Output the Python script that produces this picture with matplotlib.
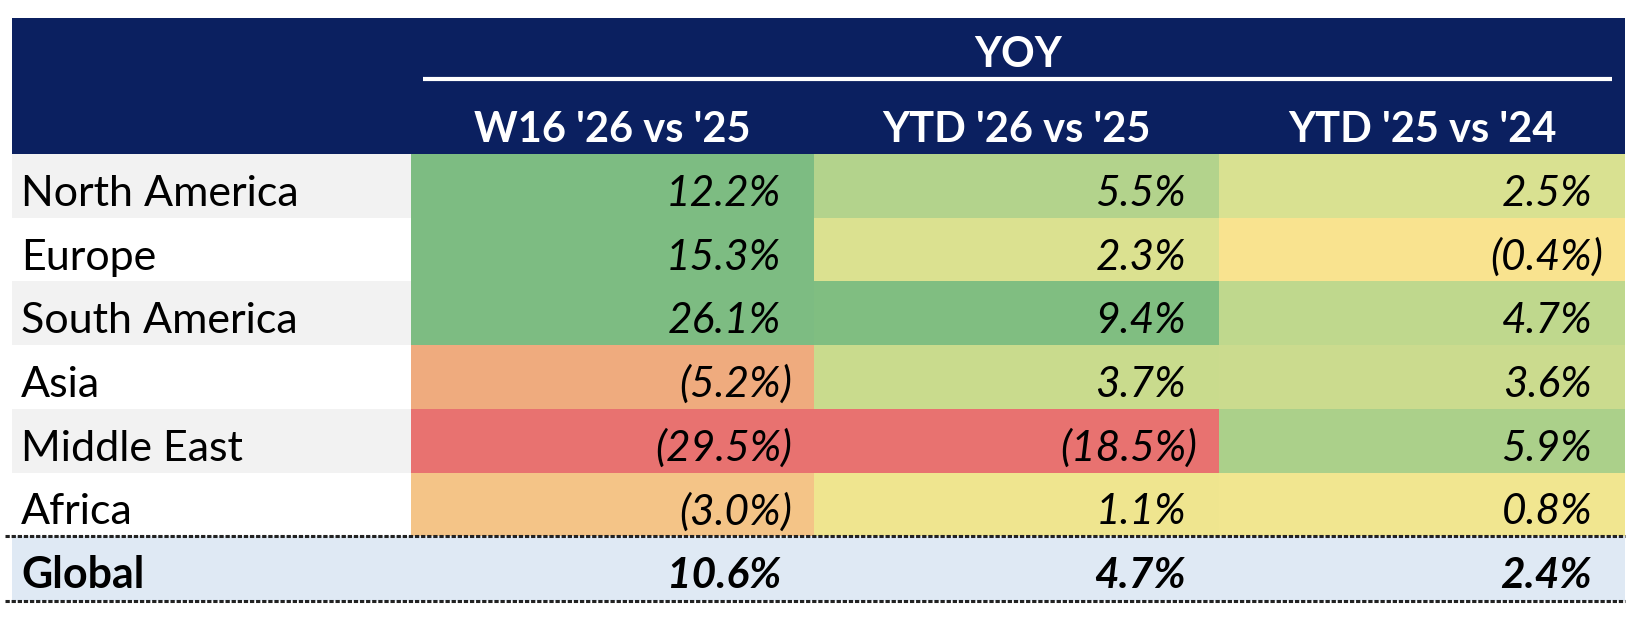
import matplotlib
matplotlib.use("Agg")
import matplotlib.pyplot as plt
from matplotlib.patches import Rectangle

plt.rcParams['font.family'] = ['Lato', 'DejaVu Sans']

# table content
regions = ['North America', 'Europe', 'South America', 'Asia', 'Middle East', 'Africa']
columns = ["W16 '26 vs '25", "YTD '26 vs '25", "YTD '25 vs '24"]
w16_26 = [12.2, 15.3, 26.1, -5.2, -29.5, -3.0]
ytd_26 = [5.5, 2.3, 9.4, 3.7, -18.5, 1.1]
ytd_25 = [2.5, -0.4, 4.7, 3.6, 5.9, 0.8]
global_row = [10.6, 4.7, 2.4]
group_title = 'YOY'

# conditional-format fills
fill_w16 = ['#7dbc82', '#7dbc82', '#7dbc82', '#efab7e', '#e87270', '#f4c487']
fill_ytd26 = ['#b3d38c', '#dbe190', '#80be81', '#c9db8d', '#e87270', '#efe58f']
fill_ytd25 = ['#d9e191', '#f9e38f', '#bfd88d', '#cbdb8e', '#abd08a', '#f1e690']

values = [w16_26, ytd_26, ytd_25]
fills = [fill_w16, fill_ytd26, fill_ytd25]

NAVY = '#0b2060'
GREY = '#f2f2f2'
BLUE = '#dfe9f4'

# layout in pixels
W, H = 1638, 620
left, right = 12, 1625
col_edges = [411, 814, 1219, 1625]
head_top, head_bot = 18, 154
row_h = 63.7
pad = 33
fs_label = 31
fs_head = 30
fs_val = 30.5


def fmt(v):
    return f'{abs(v):.1f}%'


fig = plt.figure(figsize=(W / 100, H / 100), dpi=100)
ax = fig.add_axes([0, 0, 1, 1])
ax.set_xlim(0, W)
ax.set_ylim(H, 0)
ax.axis('off')

# header block
ax.add_patch(Rectangle((left, head_top), right - left, head_bot - head_top, color=NAVY, lw=0))
ax.plot([423, 1612], [79, 79], color='white', lw=3, solid_capstyle='butt')
ax.text((col_edges[0] + right) / 2, 67, group_title, color='white', fontsize=fs_head,
        fontweight='bold', ha='center', va='baseline')
for j, name in enumerate(columns):
    cx = (col_edges[j] + col_edges[j + 1]) / 2
    ax.text(cx, 142, name, color='white', fontsize=fs_head, fontweight='bold',
            ha='center', va='baseline')


def value_text(x, y, v, **kw):
    # excel style: negatives in brackets, closing bracket hangs past the digits
    if v < 0:
        ax.text(x, y, '(' + fmt(v), ha='right', va='baseline', **kw)
        ax.text(x, y, ')', ha='left', va='baseline', **kw)
    else:
        ax.text(x, y, fmt(v), ha='right', va='baseline', **kw)


for i, name in enumerate(regions):
    y0 = head_bot + i * row_h
    base = y0 + 52
    ax.add_patch(Rectangle((left, y0), col_edges[0] - left, row_h,
                           color=GREY if i % 2 == 0 else 'white', lw=0))
    ax.text(21, base, name, fontsize=fs_label, ha='left', va='baseline', color='black')
    for j in range(3):
        x0 = col_edges[j]
        ax.add_patch(Rectangle((x0, y0), col_edges[j + 1] - x0, row_h,
                               color=fills[j][i], lw=0))
        value_text(col_edges[j + 1] - pad, base, values[j][i], fontsize=fs_val,
                   style='italic', color='black')

# global row
g0 = head_bot + len(regions) * row_h
g1 = g0 + 65
ax.add_patch(Rectangle((left, g0), right - left, g1 - g0, color=BLUE, lw=0))
ax.text(21, g0 + 52, 'Global', fontsize=fs_label, fontweight='bold', ha='left', va='baseline')
for j in range(3):
    value_text(col_edges[j + 1] - pad, g0 + 52, global_row[j], fontsize=fs_val,
               style='italic', fontweight='bold', color='black')

for yy in (g0, g1):
    ax.plot([5, right], [yy, yy], color='#222222', lw=2.2, linestyle=(0, (1.4, 0.6)),
            solid_capstyle='butt', dash_capstyle='butt')

fig.savefig('out.png', dpi=100)
